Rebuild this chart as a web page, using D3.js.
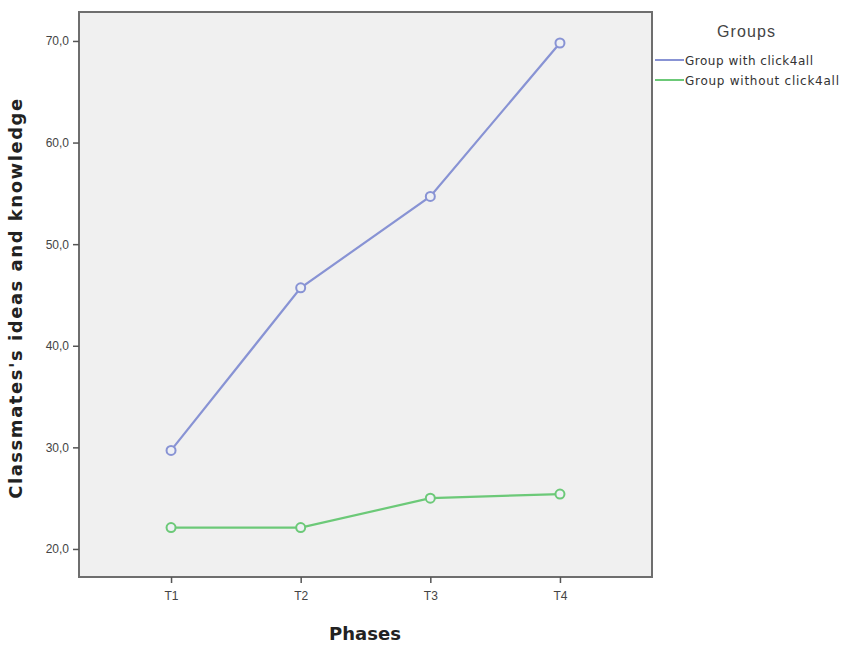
<!DOCTYPE html>
<html><head><meta charset="utf-8">
<script src="https://cdn.jsdelivr.net/npm/d3@7"></script>
<style>body{margin:0;background:#fff}</style>
</head><body>
<script>
const phases = ["T1","T2","T3","T4"];
const withClick = [29.7, 45.7, 54.7, 69.8];
const withoutClick = [22.1, 22.1, 25.0, 25.4];
const yTicks = [20, 30, 40, 50, 60, 70];
const seriesNames = ["Group with click4all","Group without click4all"];
const colors = ["#8893d4","#6cc978"];

const W=850,H=652;
const svg=d3.select("body").append("svg").attr("width",W).attr("height",H);
const L=79,R=652,T=12,B=577;
const x=d3.scalePoint().domain(phases).range([L,R]).padding(0.71);
const y=d3.scaleLinear().domain([17.24,72.85]).range([B,T]);

function fitWidth(sel, target){
  const n=sel.text().length;
  const len=sel.node().getComputedTextLength();
  sel.attr("letter-spacing",(target-len)/(n-1));
}

svg.append("rect").attr("x",L).attr("y",T).attr("width",R-L).attr("height",B-T)
  .attr("fill","#f0f0f0").attr("stroke","#6e6e6e").attr("stroke-width",2);

const ya=svg.append("g").attr("transform",`translate(${L},0)`)
  .call(d3.axisLeft(y).tickValues(yTicks).tickSize(6).tickPadding(4).tickFormat(d=>d3.format(".1f")(d).replace(".",",")));
const xa=svg.append("g").attr("transform",`translate(0,${B})`)
  .call(d3.axisBottom(x).tickSize(6).tickPadding(8));
[ya,xa].forEach(a=>{a.select(".domain").remove();a.selectAll("line").attr("stroke","#555").attr("stroke-width",1.5);
  a.selectAll("text").attr("fill","#444").attr("font-family","Liberation Sans, Arial").attr("font-size",12);});

const line=d3.line().x((d,i)=>x(phases[i])).y(d=>y(d));
[withClick,withoutClick].forEach((s,k)=>{
  svg.append("path").datum(s).attr("d",line).attr("fill","none").attr("stroke",colors[k]).attr("stroke-width",2.2);
  svg.selectAll(null).data(s).enter().append("circle").attr("cx",(d,i)=>x(phases[i])).attr("cy",d=>y(d))
    .attr("r",4.5).attr("fill","#eef0f4").attr("stroke",colors[k]).attr("stroke-width",2);
});

svg.append("text").attr("x",365).attr("y",640).attr("text-anchor","middle")
  .attr("font-family","DejaVu Sans").attr("font-weight","bold").attr("font-size",18).attr("fill","#222").text("Phases");
const yt=svg.append("text").attr("transform","translate(22,298) rotate(-90)").attr("text-anchor","middle")
  .attr("font-family","DejaVu Sans").attr("font-weight","bold").attr("font-size",18).attr("fill","#222").text("Classmates's ideas and knowledge");
fitWidth(yt,400);

const gt=svg.append("text").attr("x",717).attr("y",37)
  .attr("font-family","Liberation Sans, Arial").attr("font-size",16).attr("fill","#444").text("Groups");
fitWidth(gt,58);
const targets=[128,154];
seriesNames.forEach((n,k)=>{
  const yy=60+k*20;
  svg.append("line").attr("x1",655).attr("x2",684).attr("y1",yy).attr("y2",yy).attr("stroke",colors[k]).attr("stroke-width",2);
  const t=svg.append("text").attr("x",685).attr("y",yy+5).attr("font-family","DejaVu Sans").attr("font-size",12)
    .attr("fill","#333").text(n);
  fitWidth(t,targets[k]);
});
</script>
</body></html>
